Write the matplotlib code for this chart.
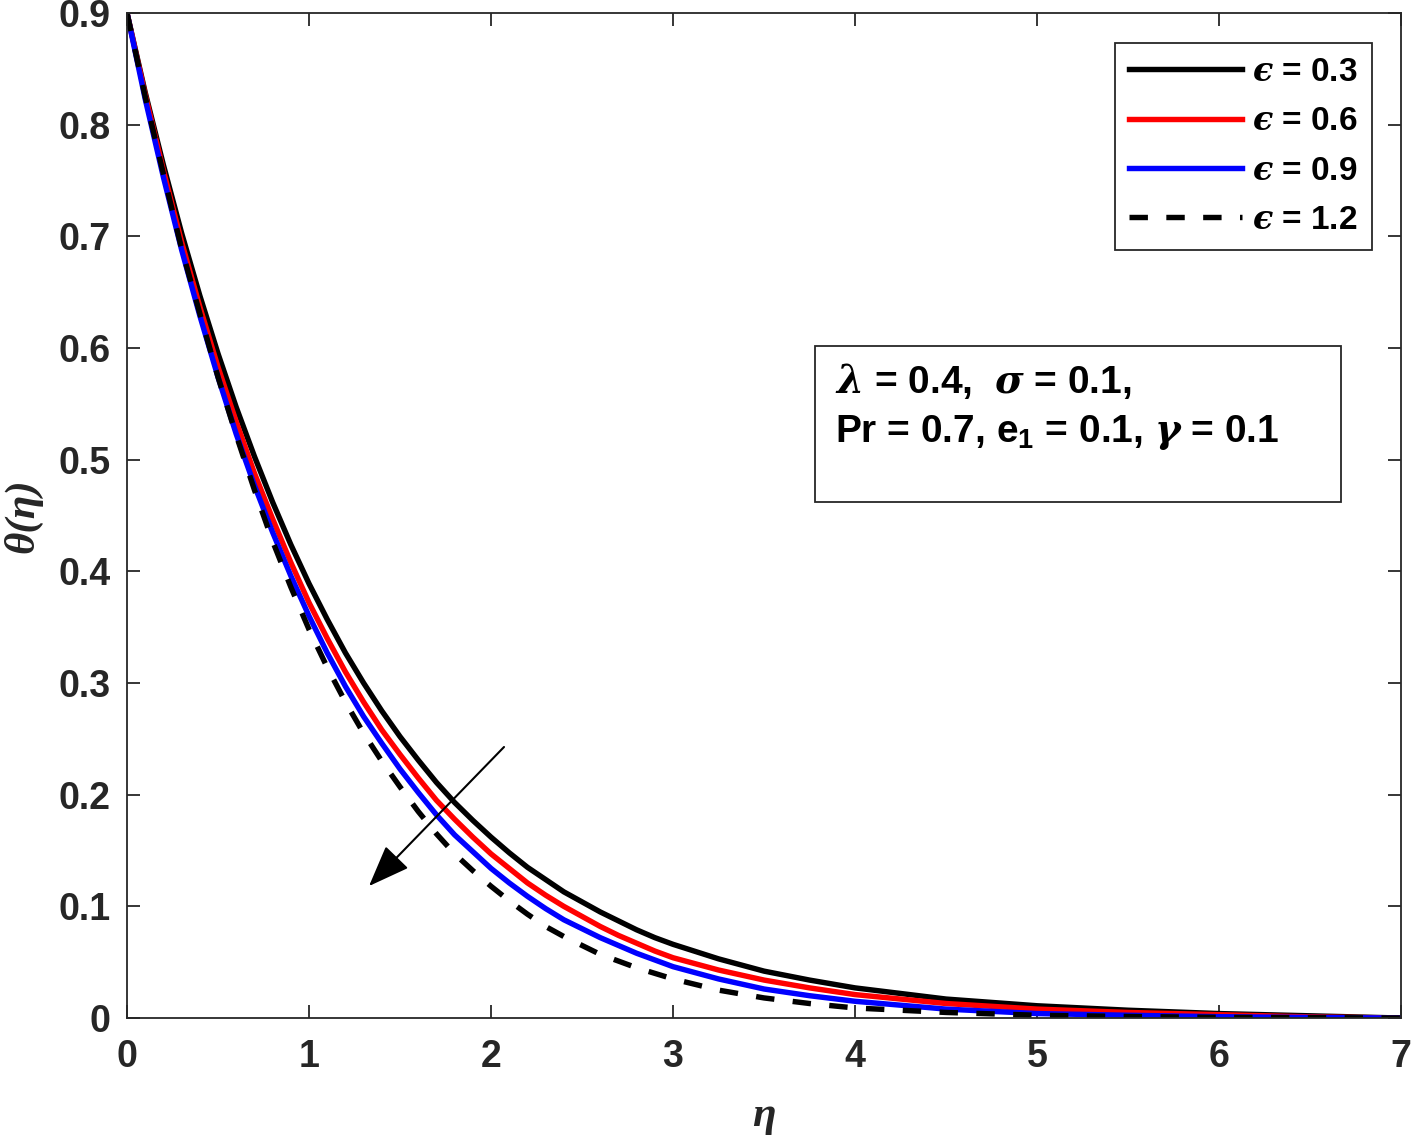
import matplotlib
matplotlib.use("Agg")
import matplotlib.pyplot as plt
from matplotlib.patches import Rectangle

plt.rcParams['font.family'] = ['Liberation Sans', 'DejaVu Sans']
plt.rcParams['font.weight'] = 'bold'
plt.rcParams['mathtext.fontset'] = 'custom'
plt.rcParams['mathtext.it'] = 'DejaVu Serif:italic:bold'
plt.rcParams['mathtext.rm'] = 'Liberation Sans:bold'
plt.rcParams['mathtext.bf'] = 'Liberation Sans:bold'

# values
eta = [0, 0.1, 0.2, 0.3, 0.4, 0.5, 0.6, 0.7, 0.8, 0.9, 1.0, 1.1, 1.2, 1.3, 1.4, 1.5,
       1.6, 1.7, 1.8, 1.9, 2.0, 2.1, 2.2, 2.3, 2.4, 2.5, 2.6, 2.7, 2.8, 2.9, 3.0,
       3.25, 3.5, 3.75, 4.0, 4.5, 5.0, 5.5, 6.0, 6.5, 7.0]
theta_03 = [0.900, 0.829, 0.764, 0.703, 0.647, 0.595, 0.547, 0.503, 0.462, 0.424, 0.389,
            0.357, 0.327, 0.300, 0.275, 0.252, 0.231, 0.211, 0.193, 0.177, 0.162,
            0.148, 0.135, 0.124, 0.113, 0.104, 0.095, 0.087, 0.079, 0.072, 0.066,
            0.053, 0.042, 0.034, 0.027, 0.017, 0.011, 0.007, 0.004, 0.002, 0.000]
theta_06 = [0.900, 0.827, 0.759, 0.695, 0.637, 0.583, 0.534, 0.488, 0.447, 0.408, 0.372,
            0.340, 0.310, 0.283, 0.258, 0.236, 0.215, 0.195, 0.178, 0.162, 0.147,
            0.134, 0.121, 0.110, 0.100, 0.091, 0.082, 0.074, 0.067, 0.060, 0.054,
            0.043, 0.034, 0.027, 0.021, 0.013, 0.008, 0.005, 0.003, 0.001, 0.000]
theta_09 = [0.900, 0.823, 0.753, 0.688, 0.629, 0.574, 0.523, 0.477, 0.435, 0.396, 0.360,
            0.327, 0.297, 0.270, 0.246, 0.223, 0.202, 0.182, 0.164, 0.149, 0.134,
            0.121, 0.109, 0.098, 0.088, 0.080, 0.072, 0.065, 0.058, 0.052, 0.046,
            0.035, 0.026, 0.020, 0.015, 0.008, 0.004, 0.0025, 0.0012, 0.0005, 0.000]
theta_12 = [0.900, 0.825, 0.756, 0.689, 0.631, 0.574, 0.522, 0.473, 0.427, 0.386, 0.348,
            0.314, 0.283, 0.255, 0.230, 0.207, 0.185, 0.165, 0.147, 0.132, 0.118,
            0.105, 0.093, 0.082, 0.073, 0.065, 0.057, 0.051, 0.045, 0.040, 0.035,
            0.025, 0.018, 0.013, 0.009, 0.005, 0.0025, 0.0014, 0.0006, 0.0003, 0.000]

labels = ['$ϵ$ = 0.3', '$ϵ$ = 0.6', '$ϵ$ = 0.9', '$ϵ$ = 1.2']
xticks = [0, 1, 2, 3, 4, 5, 6, 7]
yticks = [0, 0.1, 0.2, 0.3, 0.4, 0.5, 0.6, 0.7, 0.8, 0.9]

gray = '#262626'

fig = plt.figure(figsize=(14.11, 11.39), dpi=100)
ax = fig.add_axes([0.090, 0.1062, 0.903, 0.8824])

lw = 3.9
ax.plot(eta, theta_03, color='black', lw=lw, label=labels[0])
ax.plot(eta, theta_06, color='red', lw=lw, label=labels[1])
ax.plot(eta, theta_09, color='blue', lw=lw, label=labels[2])
ax.plot(eta, theta_12, color='black', lw=lw, ls=(0, (3.4, 3.4)), label=labels[3])

ax.set_xlim(0, 7)
ax.set_ylim(0, 0.9)
ax.set_xticks(xticks)
ax.set_yticks(yticks)
ax.set_xticklabels([str(t) for t in xticks])
ax.set_yticklabels(['0'] + ['%.1f' % t for t in yticks[1:]])

ax.tick_params(direction='in', length=9.5, width=1.3, colors=gray, labelsize=27,
               top=True, right=True)
ax.tick_params(axis='x', pad=15)
ax.tick_params(axis='y', pad=12)
for s in ax.spines.values():
    s.set_color(gray)
    s.set_linewidth(1.3)

ax.set_xlabel('η', family='Liberation Serif', style='italic', weight='bold',
              fontsize=31, color=gray, labelpad=16)
ax.set_ylabel('θ(η)', family='Liberation Serif', style='italic', weight='bold',
              fontsize=31, color=gray, labelpad=11)

leg = ax.legend(loc='upper right', bbox_to_anchor=(0.977, 0.970), fontsize=24,
                handlelength=3.4, handletextpad=0.3, labelspacing=0.55,
                borderpad=0.42, borderaxespad=0, fancybox=False, framealpha=1)
leg.get_frame().set_edgecolor(gray)
leg.get_frame().set_linewidth(1.3)

# parameter box
ax.add_patch(Rectangle((0.540, 0.5134), 0.413, 0.1553, transform=ax.transAxes,
                       fill=False, edgecolor=gray, lw=1.3))
ax.text(0.5557, 0.634, r'$\lambda$ = 0.4,  $\sigma$ = 0.1,', transform=ax.transAxes,
        fontsize=28, va='center', ha='left')
ax.text(0.5557, 0.583, r'Pr = 0.7, $\mathrm{e}_{1}$ = 0.1, $\gamma$ = 0.1', transform=ax.transAxes,
        fontsize=28, va='center', ha='left')

ax.annotate('', xy=(1.319, 0.1164), xytext=(2.082, 0.2445),
            arrowprops=dict(arrowstyle='-|>,head_length=1.3,head_width=0.5',
                            mutation_scale=20, color='black', lw=1.5))

fig.savefig('out.png', dpi=100)
